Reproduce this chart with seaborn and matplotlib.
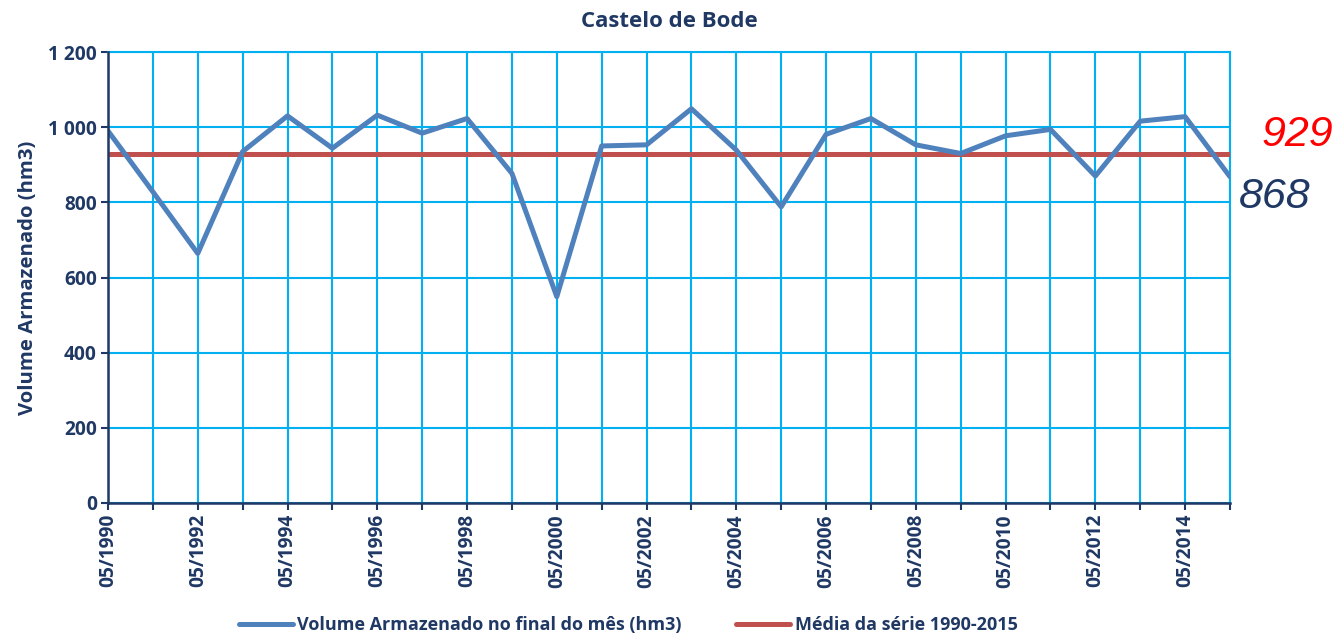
import matplotlib
matplotlib.use("Agg")
import matplotlib.pyplot as plt
import seaborn as sns
import pandas as pd

years = list(range(1990, 2016))
volume = [990, 828, 664, 935, 1030, 944, 1032, 984, 1023, 877, 549, 950, 953,
          1049, 939, 788, 981, 1023, 953, 930, 977, 994, 870, 1016, 1028, 868]
mean_value = 929
last_value = 868
series_label = "Volume Armazenado no final do mês (hm3)"
mean_label = "Média da série 1990-2015"
title = "Castelo de Bode"
ylabel = "Volume Armazenado (hm3)"
yticks = [0, 200, 400, 600, 800, 1000, 1200]
ytick_labels = ["0", "200", "400", "600", "800", "1 000", "1 200"]

navy = "#1F3864"
grid_c = "#00B0F0"
blue = "#4F81BD"
red = "#C0504D"

sns.set_style("white")
plt.rcParams["font.family"] = ["Open Sans", "DejaVu Sans"]

df = pd.DataFrame({"year": years, "volume": volume,
                   "mean": [mean_value] * len(years)})

fig = plt.figure(figsize=(13.32, 6.36), dpi=100)
ax = fig.add_axes([108 / 1332, 1 - 503 / 636, (1230 - 108) / 1332, (503 - 52) / 636])

sns.lineplot(data=df, x="year", y="volume", ax=ax, color=blue, linewidth=3.6,
             label=series_label, zorder=4)
sns.lineplot(data=df, x="year", y="mean", ax=ax, color=red, linewidth=3.6,
             label=mean_label, zorder=3)

ax.set_xlim(years[0], years[-1])
ax.set_ylim(0, 1200)
ax.set_xticks(years)
ax.set_xticklabels([f"05/{y}" if (y - years[0]) % 2 == 0 else "" for y in years],
                   rotation=90, fontsize=13.8, fontweight="bold", color=navy)
ax.set_yticks(yticks)
ax.set_yticklabels(ytick_labels, fontsize=13.8, fontweight="bold", color=navy)
ax.tick_params(axis="both", direction="out", length=5, width=1.5, color=navy,
               bottom=True, left=True, pad=3)
ax.grid(True, color=grid_c, linewidth=1.5, zorder=0)
ax.set_axisbelow(True)
for s in ["top", "right"]:
    ax.spines[s].set_color(grid_c)
    ax.spines[s].set_linewidth(1.5)
for s in ["left", "bottom"]:
    ax.spines[s].set_color(navy)
    ax.spines[s].set_linewidth(1.8)
    ax.spines[s].set_zorder(5)

ax.set_xlabel("")
ax.set_ylabel(ylabel, fontsize=14.6, fontweight="bold", color=navy, labelpad=7)
ax.set_title(title, fontsize=16, fontweight="bold", color=navy, pad=18)

ax.text(years[-1] + 0.7, mean_value - 3, str(mean_value), color="#FF0000",
        fontsize=31, style="italic", family=["Liberation Sans"], va="bottom", ha="left")
ax.text(years[-1] + 0.2, last_value - 55, str(last_value), color=navy,
        fontsize=31, style="italic", family=["Liberation Sans"], va="center", ha="left",
        clip_on=False)

leg = ax.legend(loc="lower center", bbox_to_anchor=(628 / 1332, -0.023),
                bbox_transform=fig.transFigure, ncol=2, frameon=False,
                handlelength=3.0, handletextpad=0.25, columnspacing=3.0,
                prop={"size": 13, "weight": "bold"})
for t in leg.get_texts():
    t.set_color(navy)

fig.savefig("out.png", dpi=100, facecolor="white")
